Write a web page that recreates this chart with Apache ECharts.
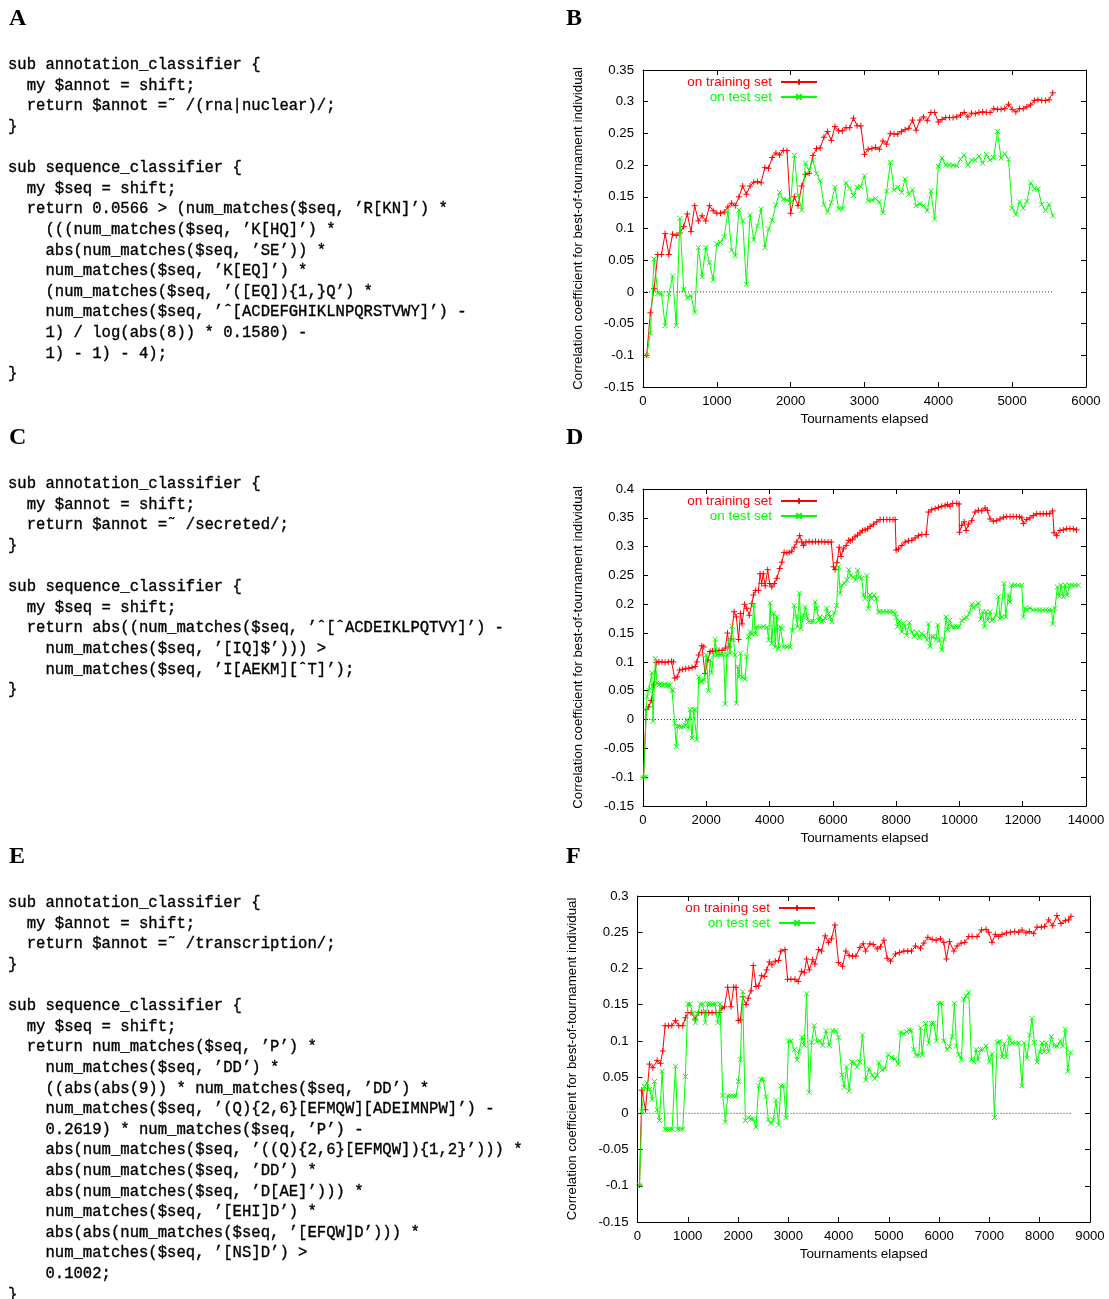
<!DOCTYPE html>
<html><head><meta charset="utf-8">
<script src="https://cdn.jsdelivr.net/npm/echarts/dist/echarts.min.js"></script>
<style>html,body{margin:0;padding:0;background:#fff}#c{width:1109px;height:1299px}</style>
</head><body><div id="c"></div>
<script>
// ---------------- code listings ----------------
const codeA = [
"sub annotation_classifier {",
"  my $annot = shift;",
"  return $annot =˜ /(rna|nuclear)/;",
"}",
"",
"sub sequence_classifier {",
"  my $seq = shift;",
"  return 0.0566 > (num_matches($seq, ’R[KN]’) *",
"    (((num_matches($seq, ’K[HQ]’) *",
"    abs(num_matches($seq, ’SE’)) *",
"    num_matches($seq, ’K[EQ]’) *",
"    (num_matches($seq, ’([EQ]){1,}Q’) *",
"    num_matches($seq, ’ˆ[ACDEFGHIKLNPQRSTVWY]’) -",
"    1) / log(abs(8)) * 0.1580) -",
"    1) - 1) - 4);",
"}"];
const codeC = [
"sub annotation_classifier {",
"  my $annot = shift;",
"  return $annot =˜ /secreted/;",
"}",
"",
"sub sequence_classifier {",
"  my $seq = shift;",
"  return abs((num_matches($seq, ’ˆ[ˆACDEIKLPQTVY]’) -",
"    num_matches($seq, ’[IQ]$’))) >",
"    num_matches($seq, ’I[AEKM][ˆT]’);",
"}"];
const codeE = [
"sub annotation_classifier {",
"  my $annot = shift;",
"  return $annot =˜ /transcription/;",
"}",
"",
"sub sequence_classifier {",
"  my $seq = shift;",
"  return num_matches($seq, ’P’) *",
"    num_matches($seq, ’DD’) *",
"    ((abs(abs(9)) * num_matches($seq, ’DD’) *",
"    num_matches($seq, ’(Q){2,6}[EFMQW][ADEIMNPW]’) -",
"    0.2619) * num_matches($seq, ’P’) -",
"    abs(num_matches($seq, ’((Q){2,6}[EFMQW]){1,2}’))) *",
"    abs(num_matches($seq, ’DD’) *",
"    abs(num_matches($seq, ’D[AE]’))) *",
"    num_matches($seq, ’[EHI]D’) *",
"    abs(abs(num_matches($seq, ’[EFQW]D’))) *",
"    num_matches($seq, ’[NS]D’) >",
"    0.1002;",
"}"];

// ---------------- chart text ----------------
const panelLetters = ["A","B","C","D","E","F"];
const xAxisTitle = "Tournaments elapsed";
const yAxisTitle = "Correlation coefficient for best-of-tournament individual";
const seriesNames = ["on training set","on test set"];

// ---------------- axis ranges ----------------
const bXTicks = [0, 6000, 1000], bYTicks = [-0.15, 0.35, 0.05];
const dXTicks = [0, 14000, 2000], dYTicks = [-0.15, 0.4, 0.05];
const fXTicks = [0, 9000, 1000], fYTicks = [-0.15, 0.3, 0.05];

// ---------------- panel B data (sampled every 50 tournaments from 50) ----------------
const bSampleStart = 50, bSampleStep = 50;
const bTrain = [-0.1,-0.033,0.005,0.059,0.059,0.092,0.059,0.091,0.089,0.093,
0.103,0.123,0.095,0.136,0.112,0.12,0.112,0.136,0.128,0.124,
0.124,0.126,0.134,0.14,0.136,0.15,0.167,0.154,0.167,0.173,
0.174,0.172,0.196,0.195,0.212,0.219,0.216,0.223,0.223,0.124,
0.15,0.136,0.167,0.185,0.187,0.215,0.226,0.227,0.244,0.253,
0.239,0.261,0.254,0.254,0.259,0.259,0.274,0.262,0.262,0.217,
0.225,0.226,0.228,0.225,0.238,0.233,0.25,0.249,0.249,0.253,
0.256,0.258,0.271,0.255,0.271,0.276,0.27,0.283,0.283,0.268,
0.272,0.275,0.275,0.275,0.276,0.279,0.283,0.276,0.282,0.281,
0.283,0.284,0.283,0.283,0.289,0.288,0.288,0.289,0.296,0.288,
0.284,0.289,0.289,0.292,0.295,0.302,0.303,0.302,0.302,0.303,
0.314];
const bTest = [-0.1,-0.065,0.052,-0.002,-0.003,-0.053,-0.003,0.025,-0.053,0.116,
0.004,-0.009,-0.006,-0.032,0.07,0.024,0.07,0.046,0.019,0.076,
0.078,0.087,0.127,0.066,0.057,0.129,0.112,0.012,0.121,0.082,
0.104,0.131,0.07,0.099,0.113,0.137,0.157,0.146,0.145,0.141,
0.215,0.152,0.129,0.203,0.192,0.208,0.187,0.175,0.138,0.126,
0.141,0.165,0.131,0.131,0.172,0.163,0.152,0.165,0.166,0.183,
0.144,0.145,0.147,0.142,0.125,0.159,0.204,0.161,0.165,0.157,
0.178,0.154,0.161,0.136,0.139,0.136,0.128,0.159,0.115,0.198,
0.211,0.2,0.2,0.2,0.199,0.209,0.216,0.2,0.208,0.208,
0.214,0.203,0.217,0.208,0.212,0.253,0.211,0.218,0.209,0.132,
0.122,0.142,0.132,0.143,0.172,0.163,0.162,0.138,0.128,0.138,
0.12];
const bZeroEnd = 5550;

// ---------------- panel D data ([tournaments, correlation]) ----------------
const dTrain = [[20,-0.1],[100,0.017],[180,0.022],[260,0.033],[340,0.06],[420,0.099],[500,0.1],[600,0.1],[700,0.099],[800,0.1],[900,0.101],[960,0.1],[1000,0.072],[1080,0.074],[1160,0.086],[1250,0.087],[1350,0.088],[1450,0.089],[1550,0.09],[1650,0.092],[1700,0.1],[1760,0.112],[1860,0.128],[1920,0.126],[1960,0.08],[2050,0.103],[2120,0.118],[2200,0.119],[2300,0.119],[2400,0.12],[2500,0.12],[2600,0.124],[2670,0.15],[2720,0.126],[2780,0.14],[2880,0.187],[2950,0.178],[3020,0.139],[3080,0.184],[3130,0.166],[3210,0.2],[3280,0.193],[3360,0.181],[3440,0.201],[3490,0.216],[3560,0.224],[3650,0.224],[3700,0.253],[3750,0.236],[3800,0.253],[3860,0.232],[3940,0.26],[4000,0.236],[4070,0.23],[4150,0.236],[4230,0.245],[4320,0.262],[4390,0.273],[4460,0.29],[4550,0.289],[4620,0.29],[4700,0.292],[4780,0.299],[4860,0.308],[4950,0.319],[5020,0.308],[5070,0.302],[5150,0.308],[5250,0.309],[5350,0.308],[5450,0.309],[5550,0.308],[5650,0.309],[5750,0.308],[5850,0.308],[5950,0.308],[6020,0.265],[6070,0.26],[6130,0.272],[6200,0.299],[6260,0.283],[6330,0.296],[6420,0.302],[6500,0.311],[6550,0.31],[6620,0.312],[6700,0.317],[6780,0.32],[6860,0.324],[6940,0.328],[7020,0.329],[7100,0.331],[7178,0.335],[7283,0.339],[7388,0.343],[7494,0.347],[7599,0.347],[7704,0.347],[7800,0.347],[7900,0.347],[7968,0.347],[8000,0.294],[8073,0.296],[8178,0.302],[8283,0.308],[8388,0.31],[8494,0.311],[8599,0.315],[8704,0.319],[8810,0.321],[8946,0.321],[9020,0.36],[9125,0.364],[9231,0.366],[9336,0.368],[9441,0.37],[9547,0.371],[9620,0.373],[9704,0.37],[9789,0.375],[9915,0.375],[9989,0.374],[10000,0.325],[10073,0.337],[10147,0.343],[10210,0.328],[10284,0.339],[10389,0.345],[10494,0.36],[10600,0.363],[10705,0.362],[10810,0.367],[10884,0.363],[10968,0.348],[11073,0.344],[11178,0.345],[11283,0.348],[11389,0.351],[11494,0.352],[11600,0.352],[11700,0.352],[11800,0.352],[11900,0.352],[11968,0.35],[12021,0.34],[12126,0.347],[12231,0.35],[12336,0.354],[12442,0.357],[12550,0.357],[12650,0.357],[12750,0.357],[12850,0.357],[12947,0.362],[12989,0.324],[13073,0.319],[13178,0.328],[13284,0.329],[13389,0.331],[13494,0.331],[13600,0.331],[13700,0.329]];
const dTest = [[20,-0.1],[80,-0.1],[126,0.04],[180,0.051],[230,0.054],[280,0.081],[315,-0.003],[390,0.106],[440,0.063],[500,0.06],[560,0.062],[620,0.06],[680,0.061],[740,0.058],[800,0.06],[860,0.06],[915,0.051],[960,0.05],[1000,-0.006],[1050,-0.047],[1090,-0.012],[1150,-0.012],[1210,-0.013],[1280,-0.012],[1340,-0.01],[1390,0],[1440,-0.015],[1490,0.017],[1550,-0.032],[1600,0.017],[1650,0.017],[1700,-0.035],[1760,0.074],[1810,0.066],[1860,0.066],[1930,0.069],[2000,0.112],[2070,0.05],[2120,0.103],[2170,0.081],[2230,0.112],[2280,0.139],[2340,0.112],[2400,0.113],[2460,0.113],[2550,0.113],[2600,0.027],[2650,0.112],[2700,0.139],[2750,0.115],[2810,0.162],[2860,0.138],[2910,0.112],[2950,0.028],[2990,0.092],[3040,0.074],[3080,0.115],[3130,0.074],[3180,0.072],[3230,0.07],[3280,0.109],[3340,0.144],[3390,0.152],[3440,0.148],[3500,0.198],[3550,0.149],[3600,0.161],[3700,0.16],[3800,0.161],[3920,0.16],[3970,0.138],[4020,0.202],[4070,0.132],[4130,0.184],[4180,0.126],[4230,0.178],[4280,0.123],[4340,0.161],[4390,0.158],[4440,0.126],[4550,0.126],[4650,0.126],[4720,0.155],[4780,0.198],[4840,0.179],[4880,0.161],[4940,0.219],[4990,0.158],[5070,0.181],[5130,0.195],[5180,0.179],[5230,0.17],[5300,0.17],[5380,0.17],[5440,0.204],[5490,0.193],[5550,0.172],[5600,0.178],[5650,0.17],[5700,0.172],[5760,0.176],[5810,0.193],[5860,0.184],[5910,0.178],[5970,0.17],[6050,0.185],[6120,0.198],[6180,0.265],[6230,0.219],[6280,0.233],[6360,0.236],[6440,0.242],[6500,0.26],[6570,0.25],[6650,0.247],[6720,0.242],[6780,0.259],[6840,0.247],[6915,0.245],[6967,0.216],[7020,0.21],[7073,0.25],[7125,0.193],[7178,0.216],[7230,0.21],[7304,0.216],[7367,0.21],[7441,0.187],[7494,0.187],[7599,0.187],[7704,0.187],[7800,0.187],[7900,0.187],[7968,0.184],[8000,0.177],[8041,0.161],[8104,0.17],[8178,0.152],[8231,0.167],[8283,0.161],[8336,0.146],[8420,0.168],[8494,0.152],[8568,0.144],[8652,0.151],[8736,0.142],[8810,0.149],[8883,0.146],[8968,0.138],[9020,0.166],[9073,0.127],[9125,0.144],[9178,0.144],[9262,0.139],[9315,0.164],[9367,0.138],[9441,0.121],[9515,0.139],[9578,0.178],[9631,0.156],[9683,0.172],[9757,0.161],[9831,0.161],[9915,0.161],[10000,0.161],[10073,0.172],[10147,0.175],[10231,0.177],[10315,0.185],[10389,0.2],[10441,0.194],[10526,0.198],[10600,0.202],[10673,0.174],[10736,0.187],[10789,0.161],[10841,0.187],[10894,0.172],[10968,0.187],[11020,0.172],[11073,0.174],[11157,0.181],[11231,0.213],[11283,0.175],[11336,0.178],[11410,0.236],[11462,0.178],[11547,0.216],[11599,0.204],[11652,0.233],[11750,0.233],[11850,0.233],[11968,0.233],[12021,0.178],[12073,0.193],[12126,0.19],[12231,0.193],[12330,0.19],[12430,0.19],[12530,0.19],[12630,0.19],[12730,0.19],[12830,0.19],[12915,0.19],[12947,0.166],[13020,0.193],[13094,0.23],[13157,0.214],[13210,0.233],[13284,0.213],[13336,0.233],[13410,0.216],[13473,0.233],[13547,0.233],[13652,0.233],[13757,0.233]];
const dZeroEnd = 13750;

// ---------------- panel F data ([tournaments, correlation]) ----------------
const fTrain = [[40,-0.099],[86,0.032],[159,0.005],[238,0.068],[305,0.063],[391,0.073],[457,0.069],[503,0.086],[549,0.121],[616,0.121],[682,0.121],[755,0.128],[821,0.121],[900,0.121],[953,0.132],[1000,0.139],[1066,0.139],[1145,0.13],[1211,0.139],[1278,0.139],[1344,0.139],[1417,0.139],[1483,0.139],[1562,0.139],[1629,0.139],[1681,0.145],[1728,0.147],[1794,0.174],[1860,0.147],[1913,0.174],[1960,0.174],[2006,0.128],[2046,0.129],[2092,0.161],[2158,0.15],[2204,0.159],[2257,0.169],[2304,0.204],[2357,0.175],[2410,0.176],[2469,0.19],[2522,0.189],[2569,0.198],[2622,0.209],[2674,0.205],[2741,0.21],[2807,0.211],[2853,0.224],[2933,0.226],[2986,0.185],[3052,0.185],[3131,0.185],[3197,0.182],[3264,0.196],[3317,0.194],[3363,0.213],[3416,0.198],[3482,0.212],[3528,0.206],[3601,0.226],[3661,0.224],[3734,0.245],[3800,0.236],[3859,0.241],[3926,0.26],[3998,0.208],[4078,0.203],[4144,0.224],[4210,0.218],[4276,0.217],[4343,0.217],[4422,0.229],[4488,0.234],[4537,0.224],[4623,0.234],[4689,0.233],[4768,0.227],[4834,0.23],[4901,0.239],[4967,0.214],[5033,0.21],[5132,0.22],[5212,0.222],[5298,0.224],[5377,0.224],[5450,0.224],[5530,0.231],[5629,0.228],[5695,0.235],[5775,0.243],[5861,0.24],[5940,0.239],[6026,0.241],[6092,0.236],[6145,0.213],[6205,0.237],[6291,0.224],[6357,0.231],[6437,0.235],[6509,0.236],[6589,0.244],[6655,0.244],[6754,0.244],[6840,0.253],[6933,0.254],[6986,0.25],[7052,0.236],[7118,0.247],[7184,0.244],[7251,0.247],[7337,0.249],[7416,0.25],[7502,0.251],[7582,0.25],[7648,0.253],[7727,0.249],[7793,0.251],[7879,0.248],[7946,0.257],[8032,0.257],[8098,0.258],[8177,0.267],[8257,0.259],[8343,0.273],[8422,0.262],[8509,0.266],[8575,0.267],[8621,0.272]];
const fTest = [[40,-0.099],[86,0.003],[139,0.037],[185,0.042],[238,0.033],[291,0.019],[338,0.044],[391,0.005],[437,-0.01],[490,0.058],[549,-0.022],[589,-0.022],[636,-0.022],[688,-0.022],[755,0.065],[801,-0.022],[854,-0.022],[900,-0.022],[953,0.051],[1000,0.151],[1046,0.151],[1099,0.138],[1152,0.125],[1198,0.138],[1251,0.151],[1298,0.151],[1350,0.125],[1397,0.151],[1443,0.151],[1496,0.151],[1542,0.151],[1595,0.125],[1642,0.151],[1695,0.025],[1748,-0.012],[1794,0.024],[1847,0.024],[1907,0.024],[1960,0.024],[2006,0.044],[2046,0.074],[2092,0.168],[2145,-0.01],[2204,-0.006],[2257,-0.008],[2304,-0.008],[2357,-0.019],[2410,0.038],[2456,0.047],[2502,0.047],[2555,0.023],[2602,-0.009],[2655,-0.014],[2701,-0.009],[2754,0.018],[2807,-0.016],[2853,0.038],[2906,0.038],[2953,-0.006],[3005,0.1],[3052,0.1],[3118,0.088],[3171,0.074],[3217,0.086],[3270,0.105],[3317,0.094],[3363,0.165],[3416,0.029],[3462,0.098],[3515,0.121],[3568,0.099],[3628,0.1],[3681,0.094],[3747,0.114],[3813,0.094],[3879,0.114],[3946,0.114],[3998,0.105],[4065,0.053],[4111,0.036],[4157,0.064],[4210,0.031],[4263,0.071],[4310,0.07],[4363,0.064],[4422,0.071],[4475,0.108],[4541,0.046],[4603,0.061],[4669,0.053],[4722,0.048],[4768,0.053],[4801,0.07],[4868,0.06],[4921,0.062],[4987,0.081],[5053,0.077],[5119,0.075],[5185,0.068],[5232,0.112],[5298,0.11],[5351,0.113],[5397,0.115],[5450,0.114],[5497,0.088],[5543,0.08],[5596,0.08],[5629,0.118],[5662,0.081],[5728,0.124],[5794,0.097],[5847,0.124],[5894,0.124],[5947,0.1],[5993,0.152],[6046,0.152],[6092,0.1],[6158,0.088],[6205,0.092],[6258,0.106],[6304,0.152],[6344,0.093],[6390,0.081],[6443,0.074],[6490,0.157],[6536,0.162],[6589,0.167],[6642,0.074],[6688,0.071],[6734,0.088],[6774,0.074],[6821,0.088],[6867,0.088],[6933,0.093],[6999,0.071],[7052,0.082],[7099,-0.006],[7152,0.098],[7198,0.099],[7251,0.078],[7297,0.096],[7337,0.078],[7396,0.105],[7449,0.097],[7516,0.097],[7582,0.097],[7648,0.038],[7694,0.097],[7747,0.076],[7800,0.108],[7846,0.131],[7893,0.098],[7946,0.071],[7999,0.085],[8045,0.097],[8092,0.085],[8131,0.097],[8177,0.085],[8230,0.106],[8290,0.093],[8343,0.093],[8409,0.1],[8456,0.093],[8509,0.116],[8555,0.058],[8608,0.084]];
const fZeroEnd = 8620;

// ---------------- build chart ----------------
const SANS = '"Liberation Sans", Arial, sans-serif';
const RED = '#ff0000', GREEN = '#00ff00';
const PLUS = 'path://M0,5L10,5M5,0L5,10';
const CROSS = 'path://M0,0L10,10M10,0L0,10';

const bTrainPts = bTrain.map((v, i) => [bSampleStart + i * bSampleStep, v]);
const bTestPts = bTest.map((v, i) => [bSampleStart + i * bSampleStep, v]);

const panels = [
  {grid:{left:643, top:70, width:443, height:317}, xt:bXTicks, yt:bYTicks, train:bTrainPts, test:bTestPts, zeroEnd:bZeroEnd, legendTop:75, legendRight:291},
  {grid:{left:643, top:489, width:443, height:317}, xt:dXTicks, yt:dYTicks, train:dTrain, test:dTest, zeroEnd:dZeroEnd, legendTop:494, legendRight:291},
  {grid:{left:637.5, top:896, width:452.5, height:326}, xt:fXTicks, yt:fYTicks, train:fTrain, test:fTest, zeroEnd:fZeroEnd, legendTop:901, legendRight:293}
];

const grid = [], xAxis = [], yAxis = [], series = [], legend = [];
const black = {color:'#000', width:1};
const fmtX = v => String(v);
const fmtY = v => String(+v.toFixed(2));

panels.forEach((p, g) => {
  grid.push(Object.assign({containLabel:false}, p.grid));
  const xBase = {type:'value', gridIndex:g, min:p.xt[0], max:p.xt[1], interval:p.xt[2],
    splitLine:{show:false}, axisLine:{onZero:false, lineStyle:black},
    axisTick:{inside:true, length:5, lineStyle:black}};
  xAxis.push(Object.assign({}, xBase, {position:'bottom',
    name:xAxisTitle, nameLocation:'middle', nameGap:26,
    nameTextStyle:{color:'#000', fontSize:13.4, fontFamily:SANS},
    axisLabel:{color:'#000', fontSize:13.2, fontFamily:SANS, margin:8, formatter:fmtX}}));
  xAxis.push(Object.assign({}, xBase, {position:'top', axisLabel:{show:false}}));
  const yBase = {type:'value', gridIndex:g, min:p.yt[0], max:p.yt[1], interval:p.yt[2],
    splitLine:{show:false}, axisLine:{onZero:false, lineStyle:black},
    axisTick:{inside:true, length:5, lineStyle:black}};
  yAxis.push(Object.assign({}, yBase, {position:'left',
    name:yAxisTitle, nameLocation:'middle', nameGap:g === 2 ? 59 : 58,
    nameTextStyle:{color:'#000', fontSize:13.3, fontFamily:SANS},
    axisLabel:{color:'#000', fontSize:13.2, fontFamily:SANS, margin:9, formatter:fmtY}}));
  yAxis.push(Object.assign({}, yBase, {position:'right', axisLabel:{show:false}}));
  const xi = 2 * g, yi = 2 * g;
  series.push({type:'line', name:'zero'+g, xAxisIndex:xi, yAxisIndex:yi, silent:true, z:1,
    data:[[0,0],[p.zeroEnd,0]], symbol:'none', lineStyle:{color:'#333', width:1, type:[1,2]}});
  series.push({type:'line', name:seriesNames[0], xAxisIndex:xi, yAxisIndex:yi, z:2,
    data:p.train, symbol:PLUS, symbolSize:6, showAllSymbol:true,
    lineStyle:{color:RED, width:1}, itemStyle:{color:RED, borderColor:RED, borderWidth:1},
    emphasis:{disabled:true}});
  series.push({type:'line', name:seriesNames[1], xAxisIndex:xi, yAxisIndex:yi, z:3,
    data:p.test, symbol:CROSS, symbolSize:5, showAllSymbol:true,
    lineStyle:{color:GREEN, width:1}, itemStyle:{color:GREEN, borderColor:GREEN, borderWidth:1},
    emphasis:{disabled:true}});
  legend.push({top:p.legendTop, right:p.legendRight, orient:'vertical', align:'right',
    itemWidth:36, itemHeight:7, itemGap:1, selectedMode:false, padding:0,
    textStyle:{fontSize:13.5, fontFamily:SANS, lineHeight:13, padding:[0,4,0,0]},
    data:[{name:seriesNames[0], textStyle:{color:RED}}, {name:seriesNames[1], textStyle:{color:GREEN}}]});
});

const MONO = '15.6px "Liberation Mono", "Courier New", monospace';
const LETTER = 'bold 24px "Liberation Serif", "Times New Roman", serif';
const letterPos = [[9,18.5],[566,18.5],[9,438],[566,438],[9,857],[566,857]];
const graphic = [];
letterPos.forEach((pos, i) => {
  graphic.push({type:'text', x:pos[0], y:pos[1], silent:true,
    style:{text:panelLetters[i], font:LETTER, fill:'#000', align:'left', verticalAlign:'middle'}});
});
[[codeA, 63], [codeC, 482], [codeE, 901]].forEach(([lines, y0]) => {
  graphic.push({type:'text', x:8, y:y0 - 8.3, silent:true,
    style:{text:lines.join('\n'), font:MONO, fill:'#000', stroke:'#000', lineWidth:0.35,
      lineHeight:20.6, align:'left', verticalAlign:'top'}});
});

const chart = echarts.init(document.getElementById('c'), null, {renderer:'canvas'});
chart.setOption({animation:false, backgroundColor:'#fff', grid, xAxis, yAxis, series, legend, graphic});
</script></body></html>
